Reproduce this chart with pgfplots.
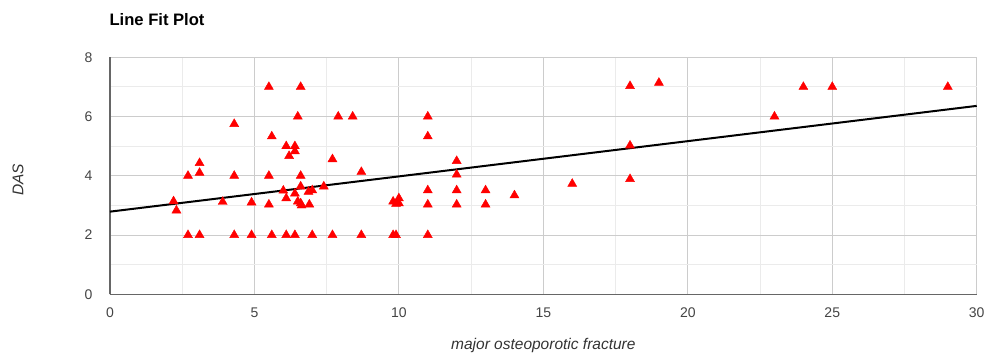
\documentclass[border=0pt]{standalone}
\usepackage{pgfplots}
\pgfplotsset{compat=1.18}
\usepackage{fontspec}
\setmainfont{Liberation Sans}
\definecolor{majgrid}{HTML}{CCCCCC}
\definecolor{mingrid}{HTML}{EBEBEB}
\definecolor{basel}{HTML}{666666}
\definecolor{ticktxt}{HTML}{444444}
\definecolor{labtxt}{HTML}{333333}
\begin{document}
\begin{tikzpicture}[x=1pt,y=1pt]
\begin{axis}[
  at={(0,0)}, anchor=south west,
  scale only axis, width=866.7pt, height=237pt,
  xmin=0, xmax=30, ymin=0, ymax=8,
  xtick={0,5,...,30}, ytick={0,2,...,8},
  minor x tick num=1, minor y tick num=1,
  grid=both,
  major grid style={draw=majgrid, line width=1pt},
  minor grid style={draw=mingrid, line width=1pt},
  axis lines=left,
  axis line style={draw=basel, line width=1.3pt, -},
  major tick length=0pt, minor tick length=0pt,
  /pgf/number format/assume math mode=true,
  ticklabel style={font=\fontsize{14}{16}\selectfont, text=ticktxt},
  xticklabel style={yshift=-10pt},
  yticklabel style={xshift=-14pt},
  xlabel={\itshape major osteoporotic fracture},
  ylabel={\itshape DAS},
  xlabel style={font=\fontsize{15.5}{18}\selectfont, text=labtxt, at={(axis description cs:0.5,0)}, anchor=center, yshift=-50.7pt},
  ylabel style={font=\fontsize{15.5}{18}\selectfont, text=labtxt, at={(axis description cs:0,0.5)}, anchor=center, yshift=92pt, xshift=-4pt},
  title={\bfseries Line Fit Plot},
  title style={font=\fontsize{16.6}{19}\selectfont, at={(axis description cs:0,1)}, anchor=west, yshift=32pt, xshift=-4pt},
  clip=false,
]
\addplot[only marks, mark=triangle*, mark size=5.2pt, color=red, mark options={fill=red, draw=red}] coordinates {
(2.2,3.14)(2.3,2.83)(2.7,4)(2.7,2)(3.1,4.43)(3.1,4.1)(3.1,2)(3.9,3.12)
(4.3,5.75)(4.3,4)(4.3,2)(4.9,3.1)(4.9,2)(5.5,7)(5.5,4)(5.5,3.03)
(5.6,5.33)(5.6,2)(6.0,3.5)(6.1,5)(6.1,3.24)(6.1,2)(6.2,4.67)(6.4,5)
(6.4,4.83)(6.4,3.4)(6.4,2)(6.5,6)(6.5,3.13)(6.6,7)(6.6,4)(6.6,3.64)
(6.6,3.07)(6.63,3.0)(6.87,3.46)(6.9,3.03)(7.0,3.51)(7.0,2)(7.4,3.64)
(7.7,4.56)(7.7,2)(7.9,6)(8.4,6)(8.7,4.13)(8.7,2)(9.8,3.13)(9.8,2)
(9.9,3.05)(9.9,2)(10,3.07)(10,3.24)(11,6)(11,5.33)(11,3.51)(11,3.03)
(11,2)(12,4.5)(12,4.04)(12,3.51)(12,3.03)(13,3.51)(13,3.03)(14,3.34)
(16,3.73)(18,7.03)(18,5.02)(18,3.89)(19,7.14)(23,6)(24,7)(25,7)(29,7)
};
\addplot[black, line width=2pt] coordinates {(0,2.79)(30,6.36)};
\end{axis}
\pgfresetboundingbox
\path[use as bounding box] (-110,-61.7) rectangle (877,294.3);
\end{tikzpicture}
\end{document}
